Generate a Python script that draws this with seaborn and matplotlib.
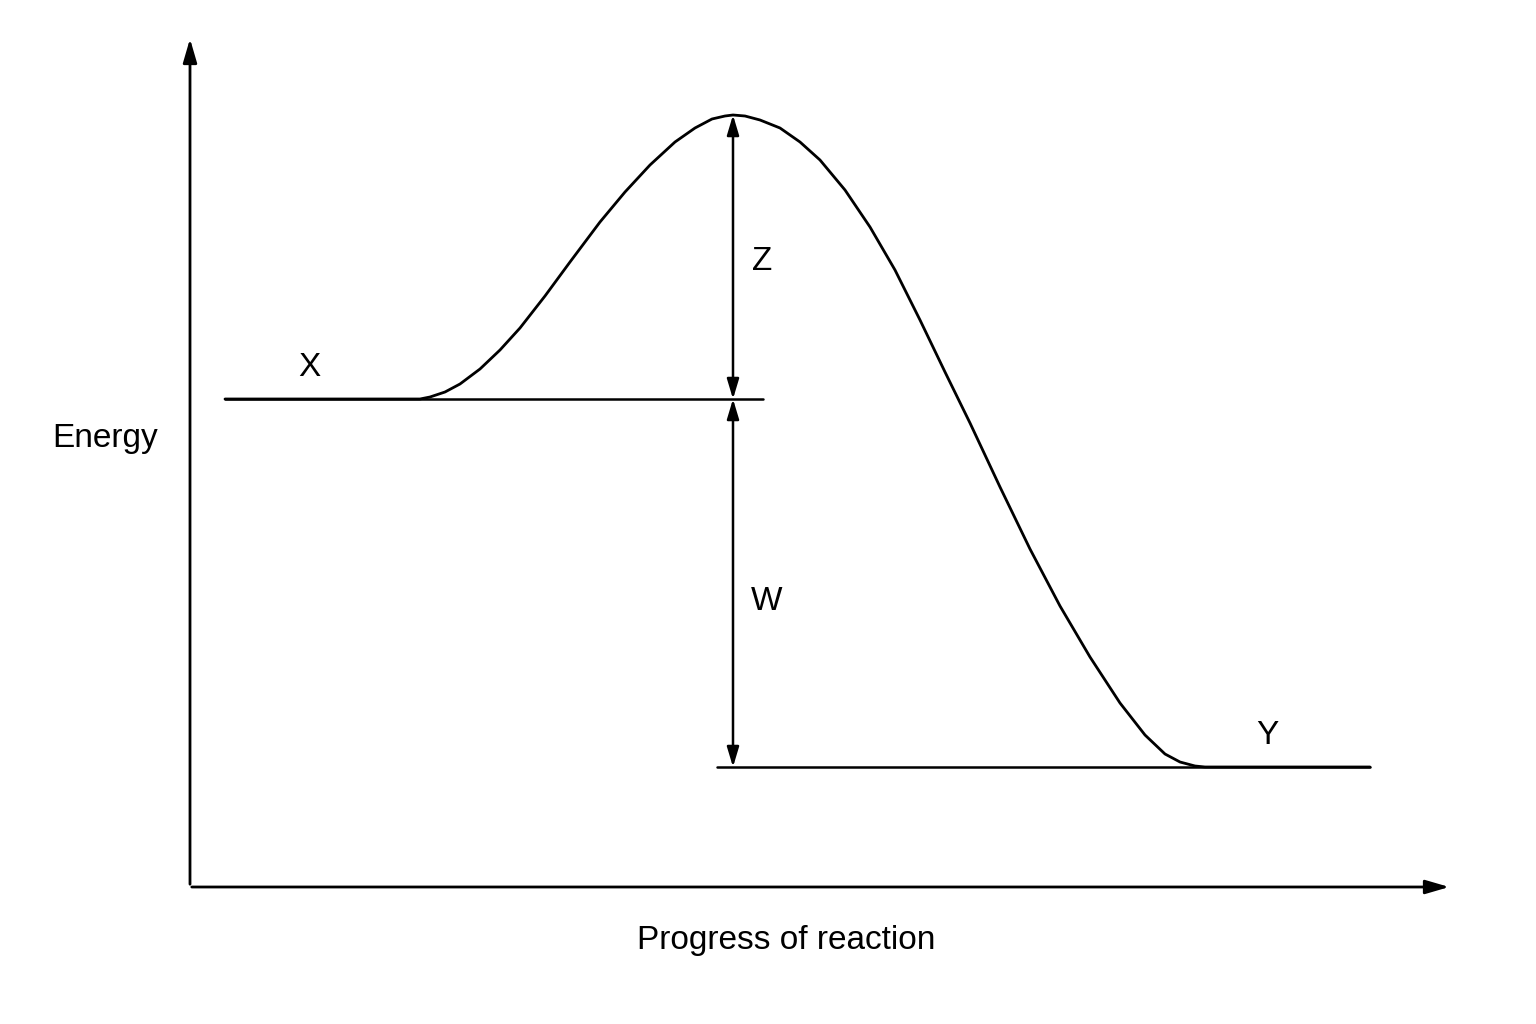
import matplotlib
matplotlib.use("Agg")
import matplotlib.pyplot as plt
import seaborn as sns
import pandas as pd

sns.set_theme(style="white")
plt.rcParams['font.family'] = ['Liberation Sans', 'DejaVu Sans']

# reaction progress (x) and energy (y) (pixel-like units, energy up)
progress = [225, 420, 430, 445, 460, 480, 500, 520, 545, 570, 600, 625, 650, 675, 695, 712, 725, 733,
            745, 760, 780, 800, 820, 845, 870, 895, 920, 945, 970, 1000, 1030, 1060, 1090,
            1120, 1145, 1165, 1180, 1195, 1205, 1370]
energy_px = [399, 399, 397, 392, 384, 369, 350, 328, 296, 262, 222, 192, 165, 142, 128, 119, 116, 115,
             116, 120, 128, 142, 160, 190, 227, 270, 320, 372, 423, 487, 549, 606, 657,
             703, 735, 754, 762, 766, 767, 767]
energy = [1024 - v for v in energy_px]

reactant_level = 1024 - 399
product_level = 1024 - 767
peak_level = 1024 - 115

fig = plt.figure(figsize=(15.36, 10.24), dpi=100)
ax = fig.add_axes([0, 0, 1, 1])
ax.set_xlim(0, 1536); ax.set_ylim(0, 1024); ax.axis('off')

df = pd.DataFrame({"progress": progress, "energy": energy})
sns.lineplot(data=df, x="progress", y="energy", ax=ax, color="black", lw=2, sort=False)

ax.plot([225, 763], [reactant_level]*2, color="black", lw=1.8)
ax.plot([717, 1370], [product_level]*2, color="black", lw=1.8)

# axes arrows
ax.annotate("", xy=(190, 1024-36), xytext=(190, 1024-887),
            arrowprops=dict(arrowstyle="-|>,head_length=1.2,head_width=0.35", color="black", lw=2))
ax.annotate("", xy=(1452, 1024-887), xytext=(189, 1024-887),
            arrowprops=dict(arrowstyle="-|>,head_length=1.2,head_width=0.35", color="black", lw=2))

# double arrows
for y0, y1 in [(peak_level, reactant_level), (reactant_level, product_level)]:
    ax.annotate("", xy=(733, y0), xytext=(733, y1),
                arrowprops=dict(arrowstyle="<|-|>,head_length=1.0,head_width=0.3",
                                color="black", lw=1.8, shrinkA=0, shrinkB=0))

fs = 24
kw = dict(fontsize=fs, ha="center", va="center", color="black")
ax.text(762, 1024-262, "Z", **kw)
ax.text(767, 1024-602, "W", **kw)
ax.text(309, 1024-367, "X", **kw)
ax.text(1267, 1024-735, "Y", **kw)
ax.text(105, 1024-438, "Energy", **kw)
ax.text(786, 1024-941, "Progress of reaction", **kw)

fig.savefig("out.png", dpi=100)
